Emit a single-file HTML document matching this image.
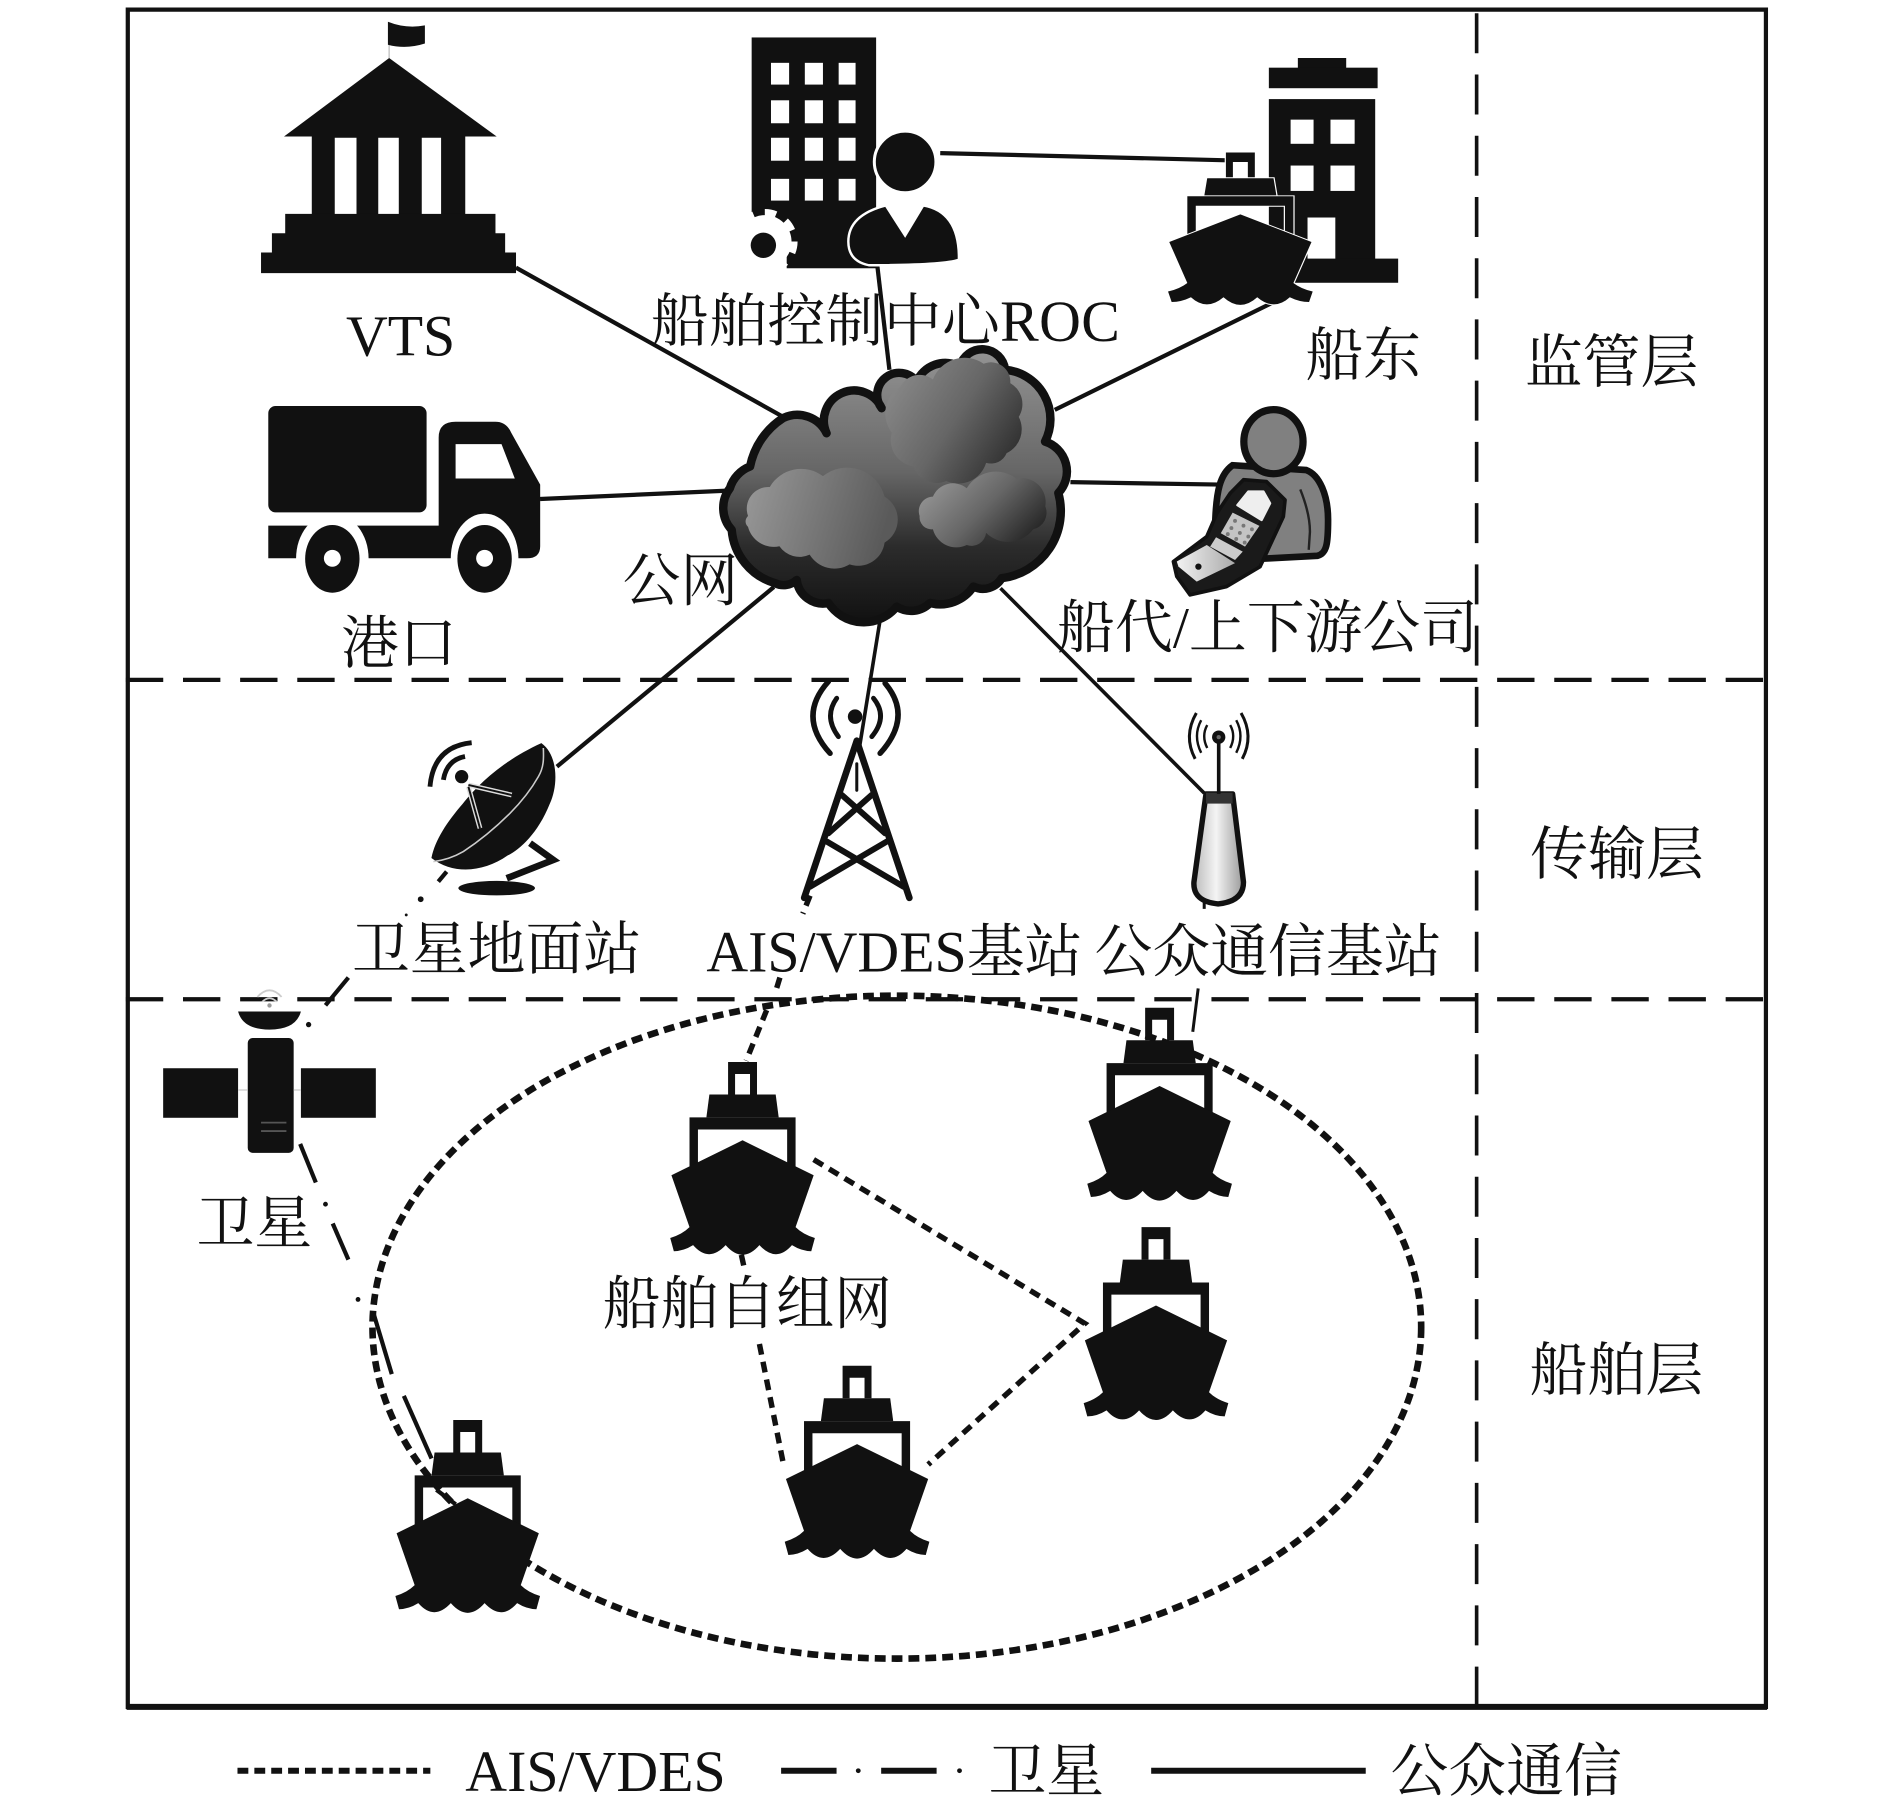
<!DOCTYPE html>
<html lang="zh"><head><meta charset="utf-8"><title>Diagram</title>
<style>
html,body{margin:0;padding:0;background:#fff}
svg{display:block}
text{font-family:"Liberation Serif","Noto Serif CJK SC",serif;font-size:48px;fill:#111}
</style></head><body>
<svg width="1890" height="1809" viewBox="0 0 1564 1497" xmlns="http://www.w3.org/2000/svg">
<defs>
<linearGradient id="cl" x1="0" y1="0" x2="0" y2="1"><stop offset="0" stop-color="#949494"/><stop offset=".45" stop-color="#666"/><stop offset=".72" stop-color="#2c2c2c"/><stop offset="1" stop-color="#111"/></linearGradient>
<linearGradient id="c1" x1="0" y1="0" x2="1" y2="0.2"><stop offset="0" stop-color="#9a9a9a"/><stop offset="1" stop-color="#5a5a5a"/></linearGradient>
<linearGradient id="c2" x1="0" y1="0.2" x2="1" y2="0.8"><stop offset="0" stop-color="#8a8a8a"/><stop offset=".5" stop-color="#666"/><stop offset="1" stop-color="#2a2a2a"/></linearGradient>
<linearGradient id="c3" x1="0" y1="0.2" x2="1" y2="0.8"><stop offset="0" stop-color="#999"/><stop offset=".5" stop-color="#666"/><stop offset="1" stop-color="#1e1e1e"/></linearGradient>
<linearGradient id="ant" x1="0" y1="0" x2="1" y2="0"><stop offset="0" stop-color="#bbb"/><stop offset=".45" stop-color="#f4f4f4"/><stop offset="1" stop-color="#999"/></linearGradient>
<linearGradient id="ph" x1="0" y1="0" x2="1" y2="0"><stop offset="0" stop-color="#f2f2f2"/><stop offset="1" stop-color="#aaa"/></linearGradient>
<g id="ship">
<path fill="#111" fill-rule="evenodd" d="M-12,0H12V27H-12Z M-6.2,10V27H6.2V10Z"/>
<path fill="#111" d="M-27.5,27H27.5L30,46H-30Z"/>
<path fill="#111" d="M-44,46H44V92H37V56H-37V92H-44Z"/>
<path fill="#111" d="M0,65L59,94L44,137Q50,143 60,146L57,157Q49,157 41,152Q28,167 14,152Q0,168 -14,152Q-28,167 -41,152Q-49,157 -57,157L-60,146Q-50,143 -44,137L-59,94Z"/>
</g>
</defs>

<rect width="1564" height="1497" fill="#fff"/>

<g transform="scale(.9975)">
<!-- frame -->
<g fill="none" stroke="#111">
<path stroke-width="3.5" d="M106,8H1465V1416H106Z"/>
<path stroke-width="5" d="M105,1416H1466"/>
<path stroke-width="3.5" stroke-dasharray="31,16.4" d="M104.4,564H1465"/>
<path stroke-width="3.5" stroke-dasharray="31,16.4" d="M104.4,829H1465"/>
<path stroke-width="3" stroke-dasharray="33.2,17.6" d="M1225,11V1416"/>
</g>

<!-- solid connectors -->
<g stroke="#111" stroke-width="3.5" fill="none">
<path d="M428,222L650,346"/>
<path d="M780,127L1018,133"/>
<path d="M875,340L1062,248"/>
<path d="M448,414L604,407"/>
<path d="M888,400L1012,402"/>
<path d="M642,487L462,636"/>
<path stroke-width="3" d="M730,515L713,620"/>
<path stroke-width="3" d="M830,488L999,658"/>
<path stroke-width="2.5" d="M999,746V754"/>
<path stroke-width="2.5" d="M989.5,856L994,820"/>
</g>

<!-- AIS ellipse -->
<ellipse cx="744" cy="1101" rx="435" ry="275" fill="none" stroke="#111" stroke-width="5.5" stroke-dasharray="9,5"/>

<!-- AIS links -->
<g stroke="#111" stroke-width="4.5" fill="none" stroke-dasharray="9,6">
<path d="M675,962L900,1098L770,1215"/>
<path d="M630,1115L650,1215"/>
<path d="M615,1041L617,1050"/>
<path d="M672,743L666,758"/>
<path d="M647,811L643,824"/>
<path d="M636,838L619,880"/>
</g>
</g>

<path d="M726,220L736,306" stroke="#111" stroke-width="3.5" fill="none"/>

<!-- VTS -->
<g fill="#111">
<path d="M322,20V48" stroke="#bbb" stroke-width="1"/>
<path d="M321,18Q336,24 351.6,21V36Q336,41 321,37Z"/>
<path d="M322,48L411,113H235Z"/>
<path d="M258,113H385V178H258Z"/>
<path d="M236,177H410V193H236Z M225,193H418V209H225Z M216,209H427V226H216Z"/>
</g>
<g fill="#fff"><rect x="277" y="114" width="18" height="63"/><rect x="313" y="114" width="17" height="63"/><rect x="349" y="114" width="16" height="63"/></g>

<!-- ROC building -->
<rect x="622" y="31" width="103" height="191" fill="#111"/>
<g fill="#fff">
<rect x="638" y="52" width="15" height="18"/><rect x="666" y="52" width="15" height="18"/><rect x="694" y="52" width="14" height="18"/>
<rect x="638" y="83" width="15" height="19"/><rect x="666" y="83" width="15" height="19"/><rect x="694" y="83" width="14" height="19"/>
<rect x="638" y="114" width="15" height="19"/><rect x="666" y="114" width="15" height="19"/><rect x="694" y="114" width="14" height="19"/>
<rect x="638" y="148" width="15" height="18"/><rect x="666" y="148" width="15" height="18"/><rect x="694" y="148" width="14" height="18"/>
<rect x="618" y="181" width="16" height="44"/>
<rect x="618" y="205" width="33" height="20"/>
<circle cx="633" cy="200" r="22"/>
</g>
<circle cx="633" cy="200" r="24" fill="none" stroke="#fff" stroke-width="6" stroke-dasharray="9.4,9.4"/>
<circle cx="631.7" cy="203" r="10.5" fill="#111"/>
<circle cx="749" cy="134" r="25.5" fill="#111" stroke="#fff" stroke-width="2.5"/>
<path d="M733,170L749,195L764,170Q793,175 793.5,212V215Q780,219.5 719,219.5Q702,216 702,200Q702,178 733,170Z" fill="#111" stroke="#fff" stroke-width="2"/>

<!-- Owner building -->
<g fill="#111">
<rect x="1074" y="48" width="40" height="10"/>
<rect x="1050" y="56" width="90" height="17"/>
<rect x="1050" y="82" width="88" height="134"/>
<rect x="1050" y="214" width="107" height="20"/>
</g>
<g fill="#fff">
<rect x="1068" y="99" width="19" height="20"/><rect x="1101" y="99" width="20" height="20"/>
<rect x="1068" y="137" width="19" height="21"/><rect x="1101" y="137" width="20" height="21"/>
<rect x="1082" y="180" width="23" height="34"/>
</g>
<g transform="scale(.9975)"><g transform="translate(1029,126.5) scale(1,.79)"><use href="#ship" stroke="#fff" stroke-width="2" paint-order="stroke"/></g></g>

<!-- Truck -->
<g fill="#111">
<rect x="222" y="336" width="131" height="88" rx="6"/>
<path d="M363,362Q363,349 377,349H410Q419,349 423,358L447,401V452Q447,462 436,462H222V435H363Z"/>
</g>
<path d="M377,367.5H415L426,396H377Z" fill="#fff"/>
<g fill="#fff"><ellipse cx="275" cy="462" rx="30" ry="37"/><ellipse cx="401" cy="462" rx="28" ry="37"/></g>
<g fill="#111"><ellipse cx="275" cy="462.5" rx="22.5" ry="28"/><ellipse cx="401" cy="462.5" rx="22.5" ry="28"/></g>
<g fill="#fff"><circle cx="275" cy="462" r="7"/><circle cx="401" cy="462" r="7"/></g>

<!-- Cloud -->
<path stroke="#111" stroke-width="7" stroke-linejoin="round" fill="url(#cl)" d="M648,346A27,27 0 0 1 684,358.5A24,24 0 0 1 729.6,337.8A18,18 0 0 1 758.6,315.7A26,26 0 0 1 794.4,303.3A19,19 0 0 1 831.7,306A41,41 0 0 1 864.8,365.4A26,26 0 0 1 875.8,408A56,56 0 0 1 828.9,478.5A18,18 0 0 1 805.5,485.4A33,33 0 0 1 769.6,499A22,22 0 0 1 742,502A35,35 0 0 1 685.5,499A22,22 0 0 1 659.3,480A16,16 0 0 1 641.4,482.6A50,50 0 0 1 605.5,438.5A27,27 0 0 1 604,404A28,28 0 0 1 620.7,386A62,62 0 0 1 648,346Z"/>
<path fill="url(#c1)" d="M619,427A18,18 0 0 1 637,403A30,30 0 0 1 681,394A32,32 0 0 1 732,411A22,22 0 0 1 732,449A22,22 0 0 1 703,467A24,24 0 0 1 670,459A20,20 0 0 1 645,452A22,22 0 0 1 619,436A6,6 0 0 1 619,427Z"/>
<path fill="url(#c2)" d="M738,358A26,26 0 0 1 745,320A18,18 0 0 1 772,314A28,28 0 0 1 814,301A16,16 0 0 1 836,317A20,20 0 0 1 843,345A22,22 0 0 1 833,375A14,14 0 0 1 816,383A24,24 0 0 1 783,398A20,20 0 0 1 756,386A22,22 0 0 1 738,358Z"/>
<path fill="url(#c3)" d="M761,427A12,12 0 0 1 772,411A18,18 0 0 1 800,404A28,28 0 0 1 841,396A20,20 0 0 1 865,419A14,14 0 0 1 855,438A26,26 0 0 1 816,441A12,12 0 0 1 800,451A20,20 0 0 1 772,438A10,10 0 0 1 761,427Z"/>

<!-- Phone person -->
<path d="M1020,385C1010,392 1006,405 1005.5,438L1010,464L1051,462L1090,460C1098,458 1099,450 1099,430C1099,410 1092,393 1081,389Z" fill="#808080" stroke="#111" stroke-width="5.5"/>
<path d="M1076,405Q1084,425 1084,440L1083,455" fill="none" stroke="#222" stroke-width="2"/>
<ellipse cx="1053.8" cy="365.5" rx="24.5" ry="26.5" fill="#808080" stroke="#111" stroke-width="6"/>
<path d="M1029,397L1048,398.5L1063.4,413.7L1062,427.5L1042.7,469L1015,485.4L984.8,492.3L973.8,477L971,464.7L998.6,444L1007,424.7L1018,408.2Z" fill="#1a1a1a" stroke="#111" stroke-width="3" stroke-linejoin="round"/>
<path d="M1024,418L1033,406.8L1045.5,406.8L1051,416.5L1044,430.3Z" fill="#eee" stroke="#eee" stroke-linejoin="round" stroke-width="2"/>
<path d="M1020,424.2L1042.2,435.2L1030.3,452.3L1010.2,441.3Z" fill="#c4c4c4"/>
<g fill="#777"><circle cx="1022" cy="431" r="1.6"/><circle cx="1029" cy="435" r="1.6"/><circle cx="1036" cy="438" r="1.6"/><circle cx="1019" cy="437" r="1.6"/><circle cx="1026" cy="441" r="1.6"/><circle cx="1033" cy="444" r="1.6"/><circle cx="1016" cy="442" r="1.6"/><circle cx="1023" cy="446" r="1.6"/><circle cx="1030" cy="449" r="1.6"/></g>
<path d="M1006.3,444.6L1028.4,456.5L1022,463.4L1001.4,452.3Z" fill="#ccc"/>
<path d="M998.6,451L1022,466L990.3,481.3L975.2,468.9L973.8,464.7Z" fill="url(#ph)"/>
<circle cx="991.7" cy="468.9" r="2.6" fill="#111"/>

<!-- Satellite dish -->
<path d="M448,615C462,625 462,650 455,665C445,690 430,703 420,708C400,722 375,724 357,710C360,695 370,680 383,665C395,650 415,630 448,615Z" fill="#111"/>
<path d="M449.6,619C450,628 450,635 445.5,642.7C438,656 430,665 422,673C410,685 398,695 383.4,704.7C376,709 367,712 358.6,713" fill="none" stroke="#ccc" stroke-width="1.3"/>
<g fill="none" stroke="#111">
<path d="M355.8,651Q358.6,617.9 390.3,614.6" stroke-width="4"/>
<path d="M366.9,645.4Q369.6,628.9 384.8,626" stroke-width="4"/>
<path d="M438.6,697.8L457.9,711.6L419.3,726.8" stroke-width="5.5"/>
<path d="M369.6,721.3L362.7,729.6" stroke-width="3.5"/>
</g>
<g fill="none"><path d="M387.6,649.6L423.4,657.9M387.6,651L397.2,685.4" stroke="#ddd" stroke-width="4"/><path d="M387.6,649.6L423.4,657.9M387.6,651L397.2,685.4" stroke="#111" stroke-width="1.6"/></g>
<circle cx="382" cy="642.7" r="5.5" fill="#111"/>
<ellipse cx="411" cy="735" rx="31.7" ry="6" fill="#111"/>

<!-- AIS tower -->
<g fill="none" stroke="#111" stroke-linecap="round">
<path stroke-width="5.5" d="M709,613L665.5,743M709,613L752.5,743"/>
<path stroke-width="5" d="M696.5,657.8L732.4,689.5M721.4,657.8L685.5,689.5M684.1,696.4L747.6,733.7M733.8,696.4L670.4,733.7"/>
<path stroke-width="2.5" d="M709,632V654"/>
<path stroke-width="4" d="M692.4,577.8Q681.4,593 693.8,609.6M722.8,577.8Q735.2,593 721.4,609.6"/>
<path stroke-width="4.5" d="M685.5,564Q659.3,593 686.9,623.4M732.4,565.4Q755.8,593 728.3,623.4"/>
</g>
<circle cx="707.6" cy="593" r="6" fill="#111"/>

<!-- Public antenna -->
<path d="M998,657H1020L1029,730Q1029,746 1008,748Q987,746 988,730Z" fill="url(#ant)" stroke="#111" stroke-width="4.5" stroke-linejoin="round"/>
<rect x="998" y="656" width="22" height="9" fill="#333"/>
<g fill="none" stroke="#111">
<path stroke-width="3" d="M1008.5,612V657"/>
<path stroke-width="2" d="M999,600Q994,609 999,619M1018,600Q1023,609 1018,619"/>
<path stroke-width="2" d="M994,596Q987,609 994,623M1023,596Q1030,609 1023,623"/>
<path stroke-width="2.5" d="M990,590Q979,609 989,628M1027,590Q1038,609 1028,628"/>
</g>
<circle cx="1008.5" cy="610" r="5.5" fill="#111"/><circle cx="1008.5" cy="610" r="1.8" fill="#666"/>

<!-- Satellite -->
<g fill="#111">
<rect x="135" y="884" width="62" height="41"/><rect x="249" y="884" width="62" height="41"/>
<rect x="205" y="859" width="38" height="95" rx="4"/>
<path d="M197,837H249Q245,852 223,852Q201,852 197,837Z"/>
</g>
<path d="M197,902H205M243,902H249" stroke="#ccc" stroke-width="1"/>
<path d="M216,929H237M216,936H237" stroke="#555" stroke-width="1.5"/>
<g fill="none" stroke="#ccc" stroke-width="1.5"><path d="M213,825Q223,814 233,825"/><path d="M217,829Q223,823 229,829"/></g>
<circle cx="223" cy="832" r="1.8" fill="#999"/>

<g transform="scale(.9975)">
<!-- Ships -->
<use href="#ship" x="616" y="881"/>
<use href="#ship" x="962" y="836"/>
<use href="#ship" x="959" y="1018"/>
<use href="#ship" x="711" y="1133"/>
<use href="#ship" x="388" y="1178"/>

<!-- Satellite link -->
<g stroke="#111" stroke-width="3.5" fill="none">
<path d="M289,811L270,834"/>
<path d="M249,949L262,981"/>
<path d="M276,1015L289,1045"/>
<path d="M310,1090L325,1140"/>
<path d="M335,1158L358,1210"/>
<path d="M362,1236L378,1248"/>
</g>
<g fill="#111"><circle cx="349" cy="746" r="2.4"/><circle cx="337" cy="759" r="1.2"/><circle cx="256" cy="850" r="2.2"/><circle cx="270" cy="999" r="2"/><circle cx="297" cy="1078" r="2"/></g>

<!-- Labels -->
<text x="287" y="295">VTS</text>
<text x="540" y="283" letter-spacing=".3">船舶控制中心ROC</text>
<text x="1083" y="311">船东</text>
<text x="1265" y="317">监管层</text>
<text x="283" y="550">港口</text>
<text x="516.5" y="498">公网</text>
<text x="877" y="537">船代/上下游公司</text>
<text x="1269.5" y="725">传输层</text>
<text x="292" y="804">卫星地面站</text>
<text x="586" y="806">AIS/VDES基站</text>
<text x="908" y="806">公众通信基站</text>
<text x="163" y="1031">卫星</text>
<text x="500" y="1098">船舶自组网</text>
<text x="1269" y="1153">船舶层</text>

<!-- Legend -->
<g stroke="#111" fill="none" stroke-width="5">
<path d="M197,1469H357" stroke-dasharray="9,5"/>
<path d="M648,1469H694"/><path d="M731,1469H777"/>
<path d="M955,1469H1133"/>
</g>
<circle cx="712" cy="1469" r="2" fill="#111"/><circle cx="796" cy="1469" r="2" fill="#111"/>
<text x="386" y="1486">AIS/VDES</text>
<text x="820" y="1486">卫星</text>
<text x="1153.5" y="1486">公众通信</text>
</g>
</svg>
</body></html>
